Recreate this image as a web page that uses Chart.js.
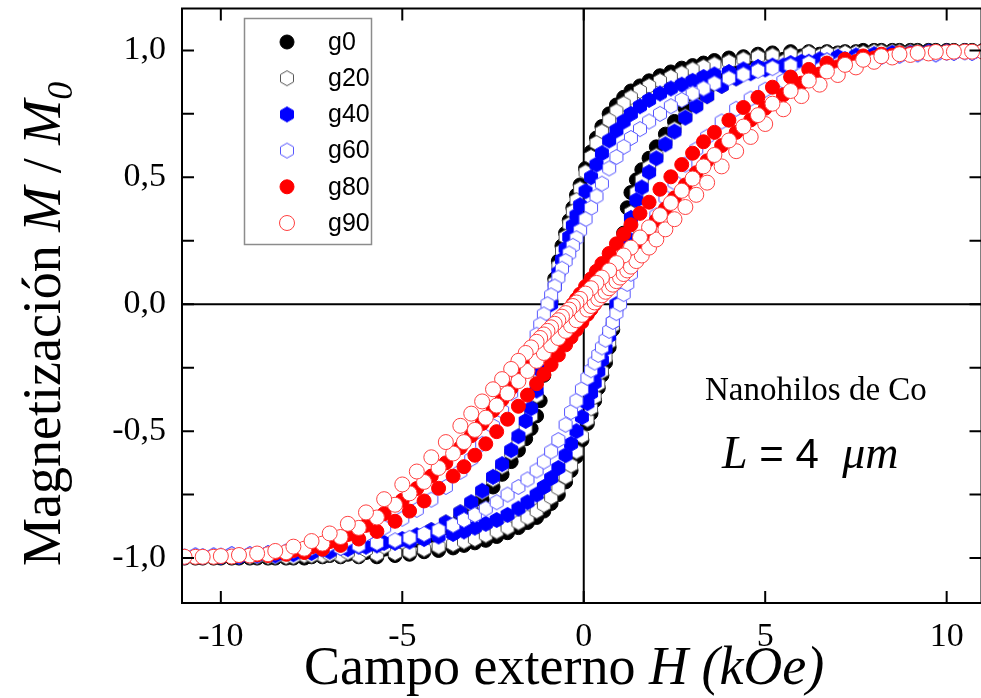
<!DOCTYPE html>
<html lang="es">
<head>
<meta charset="UTF-8">
<title>Nanohilos de Co</title>
<script src="https://cdn.jsdelivr.net/npm/chart.js@4.4.0/dist/chart.umd.min.js"></script>
<style>
html, body { margin: 0; padding: 0; background: #fff; overflow: hidden; }
#wrap { width: 981px; height: 698px; overflow: hidden; position: relative; }
</style>
</head>
<body>
<div id="wrap"><canvas id="mychart" width="990" height="698"></canvas></div>

<script>
// campo H (kOe): rama descendente y rama ascendente
var hDown = [10.7, 10.2, 9.7, 9.2, 8.7, 8.2, 7.7, 7.2, 6.7, 6.2,
  5.7, 5.2, 4.8, 4.4, 4.0, 3.6, 3.3, 3.0, 2.7, 2.4, 2.1, 1.8, 1.55, 1.3, 1.1, 0.9, 0.7, 0.5, 0.35, 0.2, 0.05,
  -0.1, -0.2, -0.3, -0.4, -0.5, -0.6, -0.7, -0.8, -0.9, -1.0, -1.1, -1.2, -1.3,
  -1.45, -1.6, -1.8, -2.0, -2.25, -2.5, -2.8, -3.1, -3.4, -3.8, -4.2, -4.6, -5.0,
  -5.5, -6.0, -6.5, -7.0, -7.5, -8.0, -8.5, -9.0, -9.5, -10.0, -10.5, -11.0];
var hUp = [-10.7, -10.2, -9.7, -9.2, -8.7, -8.2, -7.7, -7.2, -6.7, -6.2,
  -5.7, -5.2, -4.8, -4.4, -4.0, -3.6, -3.3, -3.0, -2.7, -2.4, -2.1, -1.8, -1.55, -1.3, -1.1, -0.9, -0.7, -0.5, -0.35, -0.2, -0.05,
  0.1, 0.2, 0.3, 0.4, 0.5, 0.6, 0.7, 0.8, 0.9, 1.0, 1.1, 1.2, 1.3,
  1.45, 1.6, 1.8, 2.0, 2.25, 2.5, 2.8, 3.1, 3.4, 3.8, 4.2, 4.6, 5.0,
  5.5, 6.0, 6.5, 7.0, 7.5, 8.0, 8.5, 9.0, 9.5, 10.0, 10.5, 11.0];

// M / M0
var g0Down = [1.0, 1.0, 1.0, 1.0, 1.0, 1.0, 1.0, 0.995, 0.995, 0.995,
  0.995, 0.99, 0.985, 0.975, 0.97, 0.96, 0.95, 0.94, 0.93, 0.915, 0.9, 0.88, 0.86, 0.84, 0.815, 0.785, 0.75, 0.7, 0.655, 0.6, 0.535,
  0.47, 0.43, 0.38, 0.33, 0.28, 0.23, 0.17, 0.1, 0.01, -0.12, -0.28, -0.38, -0.44,
  -0.49, -0.53, -0.575, -0.62, -0.67, -0.72, -0.77, -0.81, -0.845, -0.88, -0.91, -0.93, -0.95,
  -0.965, -0.978, -0.985, -0.99, -0.995, -1.0, -1.0, -1.0, -1.0, -1.0, -1.0, -1.0];
var g0Up = [-1.0, -1.0, -1.0, -1.0, -1.0, -1.0, -1.0, -0.995, -0.995, -0.995,
  -0.995, -0.99, -0.985, -0.975, -0.97, -0.96, -0.95, -0.94, -0.93, -0.915, -0.9, -0.88, -0.86, -0.84, -0.815, -0.785, -0.75, -0.7, -0.655, -0.6, -0.535,
  -0.47, -0.43, -0.38, -0.33, -0.28, -0.23, -0.17, -0.1, -0.01, 0.12, 0.28, 0.38, 0.44,
  0.49, 0.53, 0.575, 0.62, 0.67, 0.72, 0.77, 0.81, 0.845, 0.88, 0.91, 0.93, 0.95,
  0.965, 0.978, 0.985, 0.99, 0.995, 1.0, 1.0, 1.0, 1.0, 1.0, 1.0, 1.0];

var g20Down = [0.995, 0.995, 0.995, 0.995, 0.995, 0.995, 0.99, 0.99, 0.99, 0.99,
  0.985, 0.98, 0.975, 0.965, 0.955, 0.945, 0.935, 0.925, 0.91, 0.895, 0.88, 0.86, 0.84, 0.815, 0.79, 0.76, 0.725, 0.68, 0.635, 0.58, 0.52,
  0.455, 0.41, 0.365, 0.315, 0.265, 0.21, 0.15, 0.085, 0.01, -0.075, -0.18, -0.28, -0.36,
  -0.44, -0.49, -0.54, -0.585, -0.64, -0.69, -0.74, -0.785, -0.82, -0.86, -0.89, -0.915, -0.935,
  -0.955, -0.968, -0.978, -0.985, -0.99, -0.995, -0.995, -0.995, -0.995, -0.995, -0.995, -0.995];
var g20Up = [-0.995, -0.995, -0.995, -0.995, -0.995, -0.995, -0.99, -0.99, -0.99, -0.99,
  -0.985, -0.98, -0.975, -0.965, -0.955, -0.945, -0.935, -0.925, -0.91, -0.895, -0.88, -0.86, -0.84, -0.815, -0.79, -0.76, -0.725, -0.68, -0.635, -0.58, -0.52,
  -0.455, -0.41, -0.365, -0.315, -0.265, -0.21, -0.15, -0.085, -0.01, 0.075, 0.18, 0.28, 0.36,
  0.44, 0.49, 0.54, 0.585, 0.64, 0.69, 0.74, 0.785, 0.82, 0.86, 0.89, 0.915, 0.935,
  0.955, 0.968, 0.978, 0.985, 0.99, 0.995, 0.995, 0.995, 0.995, 0.995, 0.995, 0.995];

var g40Down = [0.99, 0.99, 0.985, 0.985, 0.98, 0.975, 0.97, 0.965, 0.96, 0.955,
  0.95, 0.94, 0.935, 0.925, 0.915, 0.905, 0.895, 0.88, 0.865, 0.85, 0.83, 0.805, 0.78, 0.75, 0.72, 0.685, 0.645, 0.595, 0.55, 0.5, 0.445,
  0.39, 0.35, 0.31, 0.265, 0.22, 0.175, 0.125, 0.07, 0.0, -0.08, -0.17, -0.26, -0.34,
  -0.41, -0.46, -0.52, -0.575, -0.63, -0.68, -0.735, -0.78, -0.82, -0.86, -0.89, -0.91, -0.925,
  -0.94, -0.955, -0.965, -0.975, -0.98, -0.985, -0.99, -0.99, -0.995, -0.995, -0.995, -0.995];
var g40Up = [-0.99, -0.99, -0.985, -0.985, -0.98, -0.975, -0.97, -0.965, -0.96, -0.955,
  -0.95, -0.94, -0.935, -0.925, -0.915, -0.905, -0.895, -0.88, -0.865, -0.85, -0.83, -0.805, -0.78, -0.75, -0.72, -0.685, -0.645, -0.595, -0.55, -0.5, -0.445,
  -0.39, -0.35, -0.31, -0.265, -0.22, -0.175, -0.125, -0.07, 0.0, 0.08, 0.17, 0.26, 0.34,
  0.41, 0.46, 0.52, 0.575, 0.63, 0.68, 0.735, 0.78, 0.82, 0.86, 0.89, 0.91, 0.925,
  0.94, 0.955, 0.965, 0.975, 0.98, 0.985, 0.99, 0.99, 0.995, 0.995, 0.995, 0.995];

var g60Down = [0.99, 0.99, 0.985, 0.985, 0.98, 0.975, 0.97, 0.965, 0.96, 0.95,
  0.94, 0.93, 0.92, 0.905, 0.89, 0.87, 0.85, 0.83, 0.805, 0.78, 0.75, 0.72, 0.69, 0.655, 0.62, 0.58, 0.535, 0.475, 0.425, 0.38, 0.335,
  0.29, 0.26, 0.23, 0.2, 0.17, 0.14, 0.105, 0.07, 0.035, 0.0, -0.04, -0.08, -0.12,
  -0.175, -0.225, -0.29, -0.35, -0.42, -0.48, -0.55, -0.61, -0.66, -0.72, -0.77, -0.81, -0.845,
  -0.88, -0.905, -0.925, -0.945, -0.96, -0.97, -0.978, -0.985, -0.99, -0.99, -0.992, -0.995];
var g60Up = [-0.99, -0.99, -0.985, -0.985, -0.98, -0.975, -0.97, -0.965, -0.96, -0.95,
  -0.94, -0.93, -0.92, -0.905, -0.89, -0.87, -0.85, -0.83, -0.805, -0.78, -0.75, -0.72, -0.69, -0.655, -0.62, -0.58, -0.535, -0.475, -0.425, -0.38, -0.335,
  -0.29, -0.26, -0.23, -0.2, -0.17, -0.14, -0.105, -0.07, -0.035, 0.0, 0.04, 0.08, 0.12,
  0.175, 0.225, 0.29, 0.35, 0.42, 0.48, 0.55, 0.61, 0.66, 0.72, 0.77, 0.81, 0.845,
  0.88, 0.905, 0.925, 0.945, 0.96, 0.97, 0.978, 0.985, 0.99, 0.99, 0.992, 0.995];

var g80Down = [0.995, 0.995, 0.995, 0.99, 0.99, 0.985, 0.978, 0.965, 0.95, 0.925,
  0.895, 0.855, 0.815, 0.775, 0.725, 0.677, 0.64, 0.595, 0.55, 0.502, 0.453, 0.402, 0.358, 0.313, 0.276, 0.238, 0.2, 0.16, 0.13, 0.1, 0.07,
  0.04, 0.02, 0.0, -0.02, -0.04, -0.06, -0.08, -0.1, -0.12, -0.14, -0.16, -0.18, -0.2,
  -0.229, -0.257, -0.295, -0.331, -0.376, -0.419, -0.47, -0.518, -0.565, -0.625, -0.677, -0.726, -0.772,
  -0.825, -0.871, -0.907, -0.935, -0.956, -0.97, -0.98, -0.987, -0.99, -0.993, -0.995, -0.995];
var g80Up = [-0.995, -0.995, -0.995, -0.99, -0.99, -0.985, -0.978, -0.965, -0.95, -0.925,
  -0.895, -0.855, -0.815, -0.775, -0.725, -0.677, -0.64, -0.595, -0.55, -0.502, -0.453, -0.402, -0.358, -0.313, -0.276, -0.238, -0.2, -0.16, -0.13, -0.1, -0.07,
  -0.04, -0.02, 0.0, 0.02, 0.04, 0.06, 0.08, 0.1, 0.12, 0.14, 0.16, 0.18, 0.2,
  0.229, 0.257, 0.295, 0.331, 0.376, 0.419, 0.47, 0.518, 0.565, 0.625, 0.677, 0.726, 0.772,
  0.825, 0.871, 0.907, 0.935, 0.956, 0.97, 0.98, 0.987, 0.99, 0.993, 0.995, 0.995];

var g90Down = [0.995, 0.995, 0.994, 0.99, 0.985, 0.977, 0.963, 0.943, 0.917, 0.881,
  0.84, 0.79, 0.745, 0.7, 0.645, 0.588, 0.543, 0.495, 0.447, 0.399, 0.351, 0.303, 0.263, 0.223, 0.192, 0.162, 0.133, 0.105, 0.084, 0.063, 0.042,
  0.021, 0.007, -0.007, -0.021, -0.035, -0.049, -0.063, -0.077, -0.091, -0.105, -0.119, -0.133, -0.148,
  -0.17, -0.192, -0.223, -0.255, -0.295, -0.335, -0.383, -0.431, -0.479, -0.543, -0.603, -0.659, -0.71,
  -0.768, -0.82, -0.865, -0.903, -0.933, -0.955, -0.972, -0.982, -0.988, -0.992, -0.995, -0.995];
var g90Up = [-0.995, -0.995, -0.994, -0.99, -0.985, -0.977, -0.963, -0.943, -0.917, -0.881,
  -0.84, -0.79, -0.745, -0.7, -0.645, -0.588, -0.543, -0.495, -0.447, -0.399, -0.351, -0.303, -0.263, -0.223, -0.192, -0.162, -0.133, -0.105, -0.084, -0.063, -0.042,
  -0.021, -0.007, 0.007, 0.021, 0.035, 0.049, 0.063, 0.077, 0.091, 0.105, 0.119, 0.133, 0.148,
  0.17, 0.192, 0.223, 0.255, 0.295, 0.335, 0.383, 0.431, 0.479, 0.543, 0.603, 0.659, 0.71,
  0.768, 0.82, 0.865, 0.903, 0.933, 0.955, 0.972, 0.982, 0.988, 0.992, 0.995, 0.995];

var seriesNames = ['g0', 'g20', 'g40', 'g60', 'g80', 'g90'];
var downValues = [g0Down, g20Down, g40Down, g60Down, g80Down, g90Down];
var upValues = [g0Up, g20Up, g40Up, g60Up, g80Up, g90Up];

var xTicks = [-10, -5, 0, 5, 10];
var yTicks = [-1.0, -0.75, -0.5, -0.25, 0, 0.25, 0.5, 0.75, 1.0];

// hexagono con vertice arriba
function hexMarker(r, fill, stroke, lw) {
    var c = document.createElement('canvas');
    var s = Math.ceil(2 * r + lw + 2);
    c.width = s; c.height = s;
    var ctx = c.getContext('2d');
    ctx.beginPath();
    for (var i = 0; i < 6; i++) {
        var a = Math.PI / 3 * i - Math.PI / 2;
        var px = s / 2 + r * Math.cos(a), py = s / 2 + r * Math.sin(a);
        if (i == 0) ctx.moveTo(px, py); else ctx.lineTo(px, py);
    }
    ctx.closePath();
    ctx.fillStyle = fill;
    ctx.fill();
    ctx.lineWidth = lw;
    ctx.strokeStyle = stroke;
    ctx.stroke();
    return c;
}

var markers = [
    {shape: 'circle', r: 7, fill: '#000000', stroke: '#000000'},
    {shape: 'hex', r: 7.5, fill: '#ffffff', stroke: '#555555'},
    {shape: 'hex', r: 7.5, fill: '#0000ff', stroke: '#0000ff'},
    {shape: 'hex', r: 7.5, fill: '#ffffff', stroke: '#5555ff'},
    {shape: 'circle', r: 7, fill: '#ff0000', stroke: '#ff0000'},
    {shape: 'circle', r: 7.5, fill: '#ffffff', stroke: '#ff4040'}
];
markers.forEach(function(m) {
    if (m.shape == 'hex') m.img = hexMarker(m.r, m.fill, m.stroke, 1);
});

var datasets = [];
seriesNames.forEach(function(name, k) {
    var m = markers[k];
    [[hDown, downValues[k]], [hUp, upValues[k]]].forEach(function(branch, b) {
        var pts = branch[0].map(function(h, i) { return {x: h, y: branch[1][i]}; });
        datasets.push({
            label: name,
            data: pts,
            order: (5 - k) * 2 + b,   // g90 encima
            pointStyle: m.shape == 'hex' ? m.img : 'circle',
            pointRadius: m.r,
            pointBackgroundColor: m.fill,
            pointBorderColor: m.stroke,
            pointBorderWidth: 1,
            showLine: false,
            clip: 0
        });
    });
});

function drawMarker(ctx, m, x, y) {
    if (m.shape == 'hex') {
        ctx.drawImage(m.img, x - m.img.width / 2, y - m.img.height / 2);
    } else {
        ctx.beginPath();
        ctx.arc(x, y, m.r, 0, Math.PI * 2);
        ctx.fillStyle = m.fill;
        ctx.fill();
        ctx.lineWidth = 1;
        ctx.strokeStyle = m.stroke;
        ctx.stroke();
    }
}

// texto con estilos mezclados
function drawParts(ctx, parts, x, y) {
    parts.forEach(function(p) {
        ctx.font = p[1];
        ctx.fillText(p[0], x, y + (p[2] || 0));
        x += ctx.measureText(p[0]).width;
    });
}

// sin margen extra para las etiquetas
function fixBox(s, w, h) {
    if (w) s.width = w;
    if (h) s.height = h;
    s.paddingTop = 0; s.paddingBottom = 0;
    s.paddingLeft = 0; s.paddingRight = 0;
}

var framePlugin = {
    id: 'frame',
    beforeDatasetsDraw: function(chart) {
        var a = chart.chartArea, ctx = chart.ctx;
        var x0 = chart.scales.x.getPixelForValue(0);
        var y0 = chart.scales.y.getPixelForValue(0);
        ctx.save();
        ctx.strokeStyle = '#000';
        ctx.lineWidth = 2;
        ctx.beginPath();
        ctx.moveTo(x0, a.top); ctx.lineTo(x0, a.bottom);
        ctx.moveTo(a.left, y0); ctx.lineTo(a.right, y0);
        ctx.stroke();
        ctx.restore();
    },
    afterDraw: function(chart) {
        var a = chart.chartArea, ctx = chart.ctx;
        var xs = chart.scales.x, ys = chart.scales.y;
        var tl = 12;
        ctx.save();
        ctx.strokeStyle = '#000';
        ctx.lineWidth = 2;
        ctx.strokeRect(a.left, a.top, a.right - a.left, a.bottom - a.top);
        ctx.beginPath();
        xTicks.forEach(function(v) {
            var px = xs.getPixelForValue(v);
            ctx.moveTo(px, a.bottom); ctx.lineTo(px, a.bottom - tl);
            ctx.moveTo(px, a.top); ctx.lineTo(px, a.top + tl);
        });
        yTicks.forEach(function(v) {
            var py = ys.getPixelForValue(v);
            ctx.moveTo(a.left, py); ctx.lineTo(a.left + tl, py);
            ctx.moveTo(a.right, py); ctx.lineTo(a.right - tl, py);
        });
        ctx.stroke();

        // leyenda
        ctx.fillStyle = '#fff';
        ctx.fillRect(244, 18, 127, 226);
        ctx.strokeStyle = '#8c8c8c';
        ctx.lineWidth = 1.5;
        ctx.strokeRect(244.5, 18.5, 127, 226);
        ctx.textBaseline = 'middle';
        ctx.textAlign = 'left';
        seriesNames.forEach(function(name, k) {
            var y = 42 + k * 36.2;
            drawMarker(ctx, markers[k], 287, y);
            ctx.fillStyle = '#000';
            ctx.font = '25px "Liberation Sans", Arial, sans-serif';
            ctx.fillText(name, 328, y + 1);
        });

        // titulos de ejes
        ctx.fillStyle = '#000';
        ctx.textBaseline = 'alphabetic';
        var serif = '"Liberation Serif", "Times New Roman", serif';
        drawParts(ctx, [
            ['Campo externo ', '54px ' + serif],
            ['H (kOe)', 'italic 54px ' + serif]
        ], 304, 684);

        ctx.save();
        ctx.translate(60, 566);
        ctx.rotate(-Math.PI / 2);
        drawParts(ctx, [
            ['Magnetización ', '54px ' + serif],
            ['M', 'italic 54px ' + serif],
            [' / ', '54px ' + serif],
            ['M', 'italic 54px ' + serif],
            ['0', 'italic 36px ' + serif, 12]
        ], 0, 0);
        ctx.restore();

        // anotaciones
        drawParts(ctx, [['Nanohilos de Co', '33px ' + serif]], 705, 400);
        drawParts(ctx, [
            ['L', 'italic 46px ' + serif],
            [' = 4  ', '42px "Liberation Sans", Arial, sans-serif'],
            ['\u03bcm', 'italic 46px ' + serif]
        ], 722, 468);
        ctx.restore();
    }
};

window.addEventListener('load', function() {
    var serif = '"Liberation Serif", "Times New Roman", serif';
    new Chart(document.getElementById('mychart'), {
        type: 'scatter',
        data: { datasets: datasets },
        options: {
            responsive: false,
            animation: false,
            events: [],
            layout: { padding: { top: 8, right: 4, left: 0, bottom: 0 } },
            plugins: { legend: { display: false }, tooltip: { enabled: false } },
            scales: {
                x: {
                    type: 'linear',
                    min: -11.07,
                    max: 10.96,
                    afterFit: function(s) { fixBox(s, 0, 95); },
                    grid: { display: false, drawTicks: false },
                    border: { display: false },
                    ticks: {
                        stepSize: 5,
                        includeBounds: false,
                        color: '#000',
                        padding: 14,
                        font: { family: serif, size: 34 },
                        callback: function(v) { return xTicks.indexOf(v) >= 0 ? String(v) : ''; }
                    }
                },
                y: {
                    type: 'linear',
                    min: -1.177,
                    max: 1.165,
                    afterFit: function(s) { fixBox(s, 182, 0); },
                    grid: { display: false, drawTicks: false },
                    border: { display: false },
                    ticks: {
                        stepSize: 0.25,
                        includeBounds: false,
                        autoSkip: false,
                        color: '#000',
                        padding: 16,
                        font: { family: serif, size: 34 },
                        callback: function(v) {
                            var r = Math.round(v * 100) / 100;
                            if (Math.abs(r * 2 - Math.round(r * 2)) > 1e-6) return '';
                            return r.toFixed(1).replace('.', ',');
                        }
                    }
                }
            }
        },
        plugins: [framePlugin]
    });
});
</script>
</body>
</html>
